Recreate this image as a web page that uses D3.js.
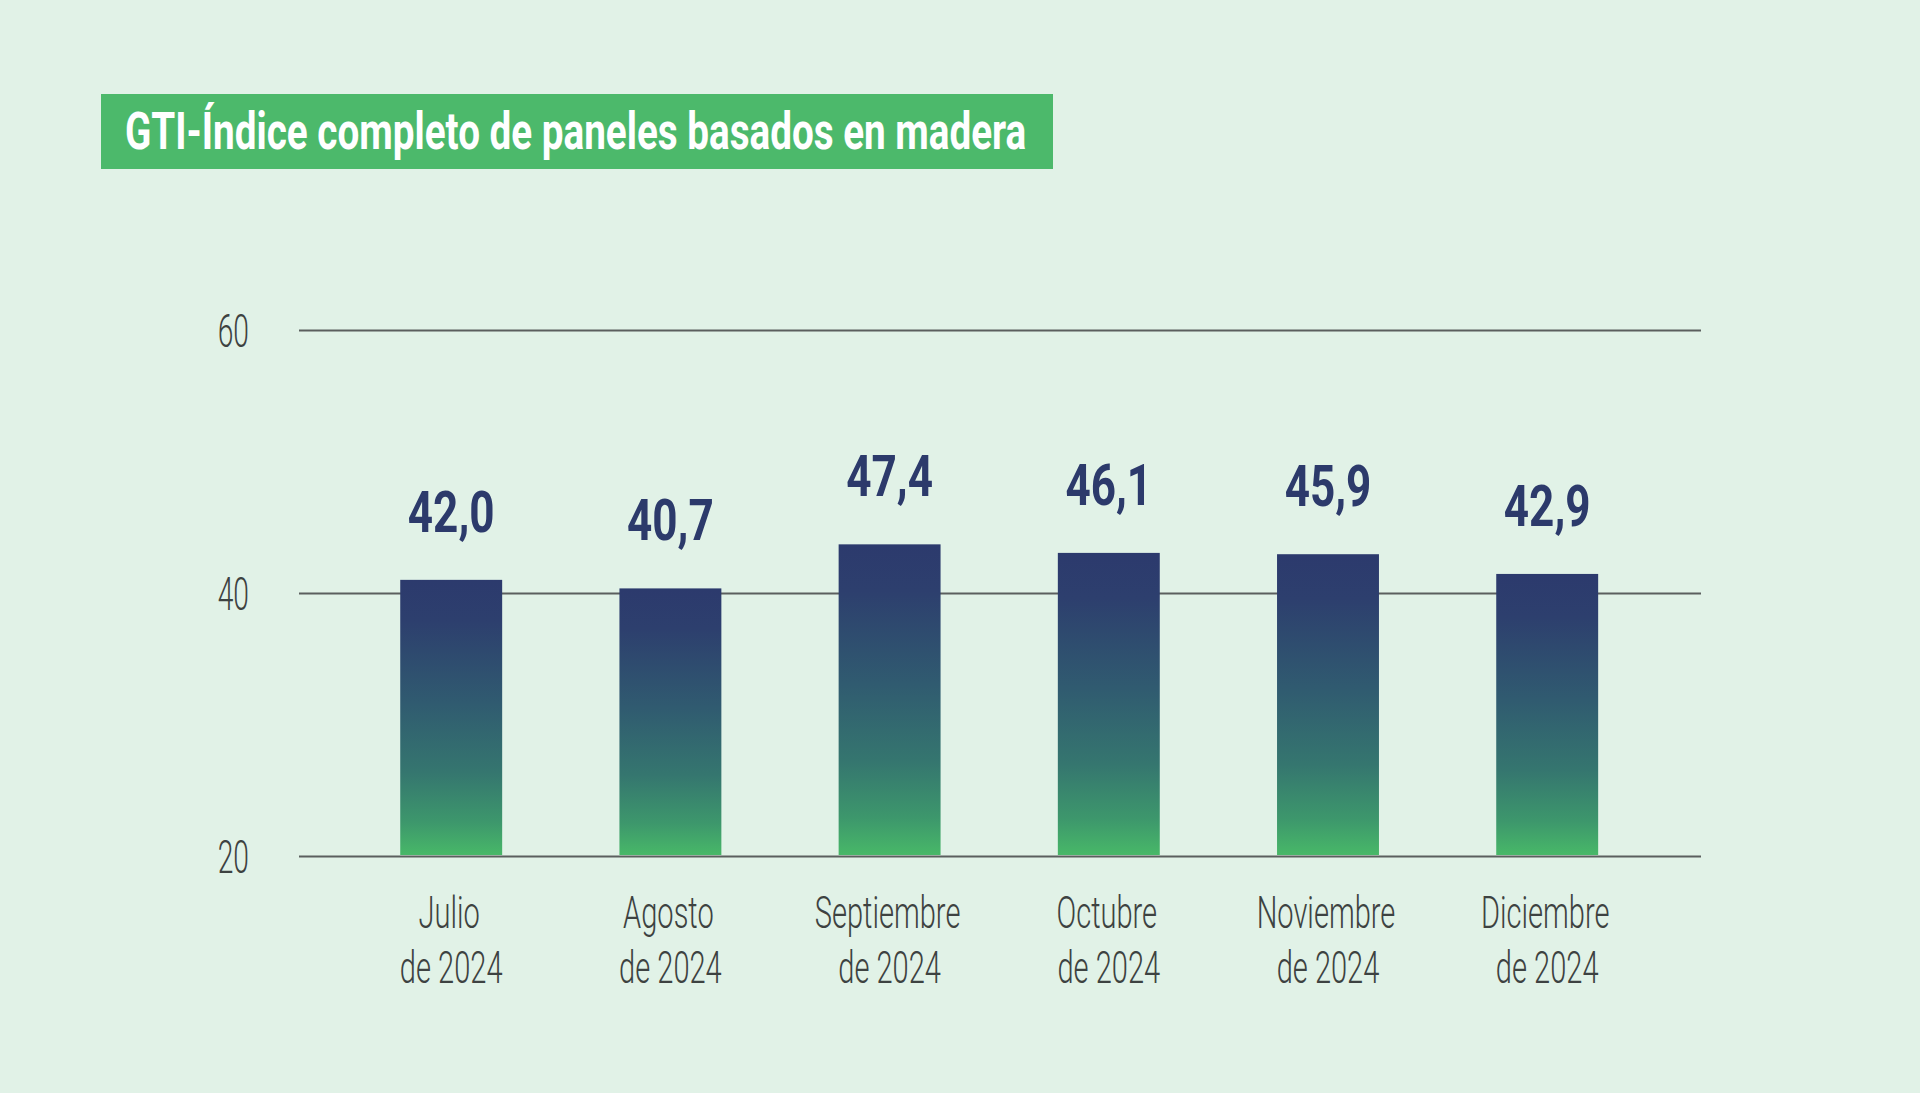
<!DOCTYPE html>
<html>
<head>
<meta charset="utf-8">
<script src="https://cdn.jsdelivr.net/npm/d3@7"></script>
<style>
  html, body { margin: 0; padding: 0; background: #e1f2e7; }
  svg { display: block; }
</style>
</head>
<body>
<svg id="chart" width="1920" height="1093"></svg>
<script>
// ---- data ----
const titleText = "GTI-Índice completo de paneles basados en madera";
const monthNames = ["Julio", "Agosto", "Septiembre", "Octubre", "Noviembre", "Diciembre"];
const yearLine = ["de 2024", "de 2024", "de 2024", "de 2024", "de 2024", "de 2024"];
const values = [42.0, 40.7, 47.4, 46.1, 45.9, 42.9];
const valueLabels = ["42,0", "40,7", "47,4", "46,1", "45,9", "42,9"];
const gridValues = [0, 40, 80];
const tickLabels = ["20", "40", "60"];

// ---- layout / style ----
const W = 1920, H = 1093;
const plot = { left: 299, right: 1701, top: 330, bottom: 856 };
const colors = {
  bg: "#e1f2e7", titleBox: "#4cb96b", title: "#ffffff",
  value: "#2c3a6b", axisText: "#3d4241", grid: "#5b5f5e"
};
const fontBold = "Roboto, 'Liberation Sans', sans-serif";
const fontLight = "Roboto, 'Liberation Sans', sans-serif";

const svg = d3.select("#chart");
svg.append("rect").attr("width", W).attr("height", H).attr("fill", colors.bg);

// condense helper: squeeze text horizontally
function condense(sel, factor) {
  sel.each(function () {
    const w = this.getComputedTextLength();
    d3.select(this).attr("textLength", w * factor).attr("lengthAdjust", "spacingAndGlyphs");
  });
}

// gradient
const defs = svg.append("defs");
const grad = defs.append("linearGradient").attr("id", "barGrad")
  .attr("x1", 0).attr("y1", 0).attr("x2", 0).attr("y2", 1);
[["0%", "#2c3a6d"], ["15%", "#2d3f6e"], ["45%", "#305b70"], ["70%", "#35766f"], ["88%", "#3d976c"], ["100%", "#48b868"]]
  .forEach(([o, c]) => grad.append("stop").attr("offset", o).attr("stop-color", c));

// title box
svg.append("rect").attr("x", 101).attr("y", 94).attr("width", 952).attr("height", 75).attr("fill", colors.titleBox);
svg.append("text").attr("x", 125).attr("y", 149)
  .attr("font-family", fontBold).attr("font-weight", 700).attr("font-size", 52)
  .attr("fill", colors.title).text(titleText).call(condense, 0.743);

// scales
const x = d3.scaleBand().domain(monthNames)
  .range([341.6, 1656.8]).paddingInner(0.535).paddingOuter(0.2675);
const y = d3.scaleLinear().domain([0, 80]).range([plot.bottom, plot.top]);

// grid / y axis
const yAxis = d3.axisLeft(y).tickValues(gridValues)
  .tickFormat((d, i) => tickLabels[i])
  .tickSize(-(plot.right - plot.left)).tickPadding(50);
const gy = svg.append("g").attr("transform", `translate(${plot.left},0)`).call(yAxis);
gy.select(".domain").remove();
gy.selectAll(".tick line").attr("stroke", colors.grid).attr("stroke-width", 2);
gy.selectAll(".tick text")
  .attr("font-family", fontLight).attr("font-weight", 300).attr("font-size", 47)
  .attr("fill", colors.axisText).attr("dy", "0.36em").call(condense, 0.6);

// bars
svg.append("g").selectAll("rect").data(values).join("rect")
  .attr("x", (d, i) => x(monthNames[i]))
  .attr("width", x.bandwidth())
  .attr("y", d => y(d))
  .attr("height", d => y(0) - y(d) - 1)
  .attr("fill", "url(#barGrad)");

// value labels
svg.append("g").selectAll("text").data(values).join("text")
  .attr("x", (d, i) => x(monthNames[i]) + x.bandwidth() / 2)
  .attr("y", d => y(d) - 48)
  .attr("text-anchor", "middle")
  .attr("font-family", fontBold).attr("font-weight", 700).attr("font-size", 58)
  .attr("fill", colors.value)
  .text((d, i) => valueLabels[i]).call(condense, 0.76);

// category labels
const gx = svg.append("g");
gx.selectAll("text.m").data(monthNames).join("text").attr("class", "m")
  .attr("x", d => x(d) + x.bandwidth() / 2 - 2).attr("y", 928)
  .attr("text-anchor", "middle")
  .attr("font-family", fontLight).attr("font-weight", 300).attr("font-size", 44)
  .attr("fill", colors.axisText).text(d => d).call(condense, 0.66);
gx.selectAll("text.yr").data(yearLine).join("text").attr("class", "yr")
  .attr("x", (d, i) => x(monthNames[i]) + x.bandwidth() / 2).attr("y", 983)
  .attr("text-anchor", "middle")
  .attr("font-family", fontLight).attr("font-weight", 300).attr("font-size", 44)
  .attr("fill", colors.axisText).text(d => d).call(condense, 0.66);
</script>
</body>
</html>
